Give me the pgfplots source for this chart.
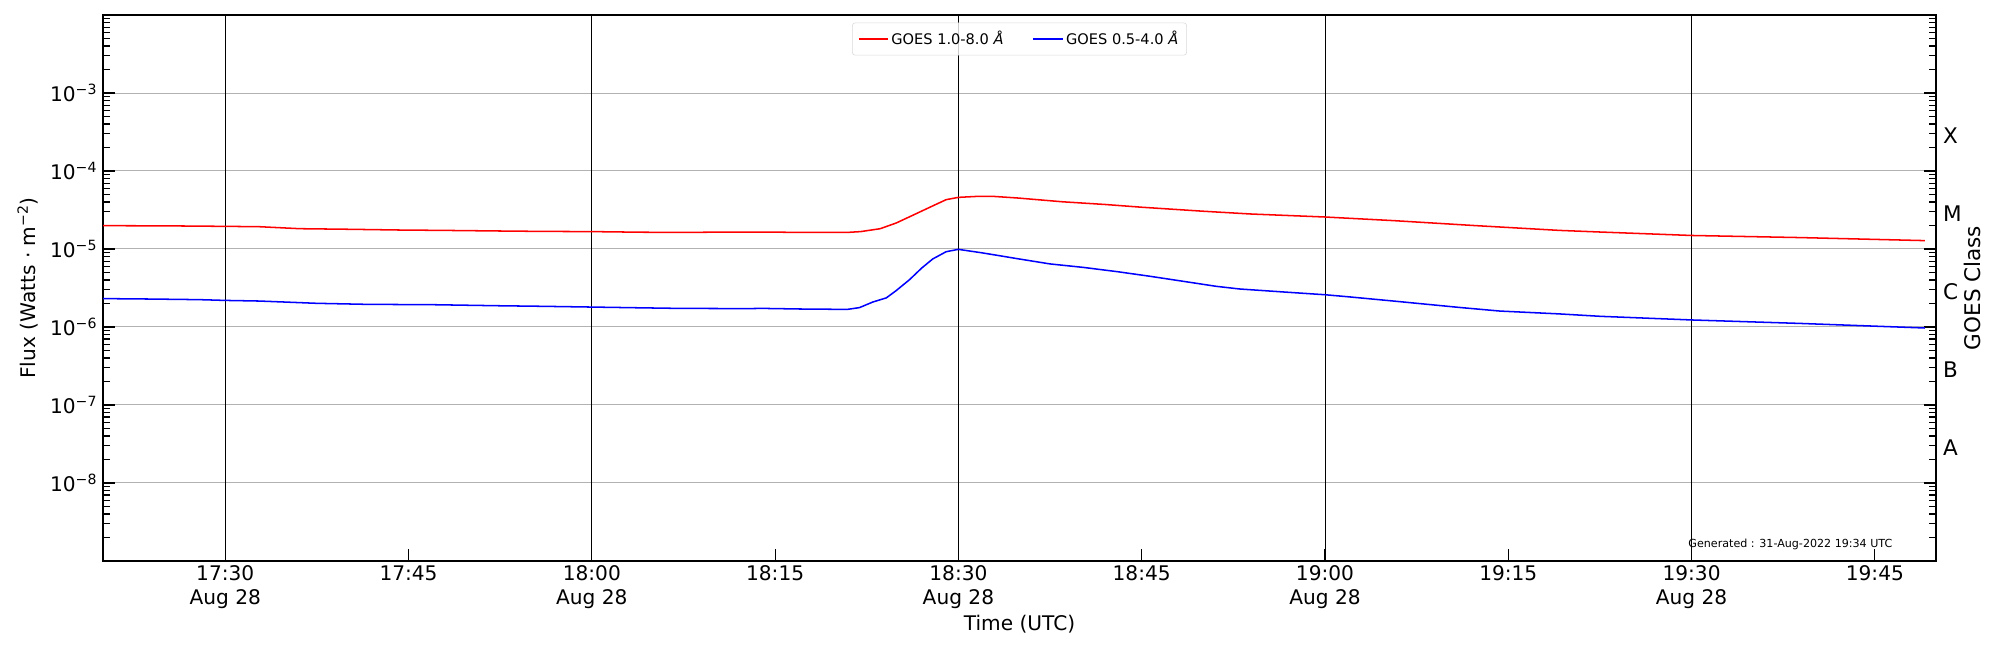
\documentclass[border=0pt]{standalone}
\usepackage{fontspec}
\setmainfont{DejaVu Sans}
\usepackage{pgfplots}
\pgfplotsset{compat=1.18}
\begin{document}
\begin{tikzpicture}
\path[use as bounding box] (-74.2pt,-64.1pt) rectangle (1365.9pt,403.9pt);
\begin{axis}[
  at={(0pt,0pt)}, anchor=south west,
  scale only axis, width=1319.8pt, height=393.1pt,
  xmin=20, xmax=170, ymode=log, ymin=1e-9, ymax=1e-2,
  font=\fontsize{14.5}{17.4}\selectfont,
  axis line style={line width=1pt},
  tick align=inside, major tick length=8.3pt, minor tick length=5.3pt,
  tick style={black, line width=0.8pt},
  xtick pos=left, ytick pos=both,
  xtick={30,45,60,75,90,105,120,135,150,165},
  xticklabels={{17:30\\Aug 28},17:45,{18:00\\Aug 28},18:15,{18:30\\Aug 28},18:45,{19:00\\Aug 28},19:15,{19:30\\Aug 28},19:45},
  xticklabel style={align=center, inner sep=2pt, yshift=-1pt},
  ytick={1e-9,1e-8,1e-7,1e-6,1e-5,1e-4,1e-3,1e-2},
  yticklabels={,10\textsuperscript{−8},10\textsuperscript{−7},10\textsuperscript{−6},10\textsuperscript{−5},10\textsuperscript{−4},10\textsuperscript{−3},},
  yticklabel style={inner sep=2pt, xshift=-2pt},
  ymajorgrids, major grid style={color=black!30, line width=0.7pt},
  extra x ticks={30,60,90,120,150},
  extra x tick labels={},
  extra x tick style={xmajorgrids=true, major grid style={black, line width=0.7pt}},
  xlabel={Time (UTC)},
  ylabel={Flux (Watts · m\textsuperscript{−2})},
  xlabel style={at={(axis description cs:0.5,-0.1155)}, anchor=center},
  ylabel style={at={(axis description cs:-0.0412,0.5)}, anchor=center},
  legend style={at={(0.5,1)}, anchor=north, yshift=-5.5pt, draw=black!15, rounded corners=2pt,
    font=\fontsize{10.5}{12.6}\selectfont, fill=white, fill opacity=0.8, text opacity=1,
    /tikz/column 2/.style={column sep=19pt}, inner sep=4pt},
  legend columns=2, legend cell align=left,
  legend image code/.code={\draw[#1] (0pt,0pt) -- (21pt,0pt);},
]
\addplot[red, line width=1.1pt] coordinates {
(20,1.99e-5)(25,1.98e-5)(30,1.95e-5)(32.8,1.93e-5)(36.1,1.82e-5)(40,1.79e-5)(44.3,1.75e-5)(48,1.73e-5)(52.5,1.70e-5)(56,1.68e-5)(60,1.67e-5)(64,1.64e-5)(67.2,1.63e-5)(72,1.65e-5)(74,1.65e-5)(77.1,1.63e-5)(80.9,1.63e-5)(82,1.67e-5)(83.6,1.82e-5)(84.9,2.15e-5)(86.3,2.72e-5)(87.7,3.45e-5)(89.0,4.29e-5)(90,4.59e-5)(91.5,4.72e-5)(92.9,4.72e-5)(94.8,4.51e-5)(98.5,4.03e-5)(102,3.72e-5)(105,3.43e-5)(110,3.05e-5)(113.9,2.81e-5)(120,2.57e-5)(125.6,2.31e-5)(132.4,1.99e-5)(139.2,1.73e-5)(142.5,1.65e-5)(150,1.49e-5)(158.9,1.40e-5)(169.1,1.28e-5)
};
\addlegendentry{GOES 1.0-8.0 \textit{Å}}
\addplot[blue, line width=1.1pt] coordinates {
(20,2.31e-6)(24,2.28e-6)(27.9,2.24e-6)(30,2.19e-6)(32.8,2.15e-6)(37.5,2.01e-6)(41.6,1.95e-6)(47,1.93e-6)(52.5,1.87e-6)(56,1.84e-6)(60,1.80e-6)(64,1.76e-6)(67.2,1.73e-6)(72.7,1.72e-6)(74,1.73e-6)(77,1.70e-6)(80.9,1.68e-6)(81.9,1.77e-6)(83.0,2.09e-6)(84.1,2.36e-6)(84.9,2.92e-6)(86.0,4.04e-6)(87.0,5.70e-6)(87.9,7.45e-6)(89.0,9.23e-6)(90,9.89e-6)(92,8.89e-6)(94.8,7.52e-6)(97.5,6.43e-6)(100.2,5.81e-6)(103,5.12e-6)(105.7,4.46e-6)(108.4,3.85e-6)(111.1,3.32e-6)(113,3.07e-6)(116.6,2.81e-6)(120,2.59e-6)(122,2.43e-6)(125.6,2.15e-6)(131,1.78e-6)(134.3,1.60e-6)(139.2,1.47e-6)(142.5,1.37e-6)(150,1.23e-6)(158.9,1.11e-6)(169.1,9.70e-7)
};
\addlegendentry{GOES 0.5-4.0 \textit{Å}}
\node[font=\fontsize{8}{9.6}\selectfont, anchor=center] at (axis description cs:0.9206,0.0306) {Generated : 31-Aug-2022 19:34 UTC};
\end{axis}
\begin{axis}[
  at={(0pt,0pt)}, anchor=south west,
  scale only axis, width=1319.8pt, height=393.1pt,
  xmin=20, xmax=170, ymode=log, ymin=1e-9, ymax=1e-2,
  font=\fontsize{15.5}{18.6}\selectfont,
  axis x line=none, axis y line*=right,
  y axis line style={draw=none},
  tick style={draw=none},
  ytick={3.1623e-8,3.1623e-7,3.1623e-6,3.1623e-5,3.1623e-4},
  yticklabels={A,B,C,M,X},
  yticklabel style={anchor=west, inner sep=0pt, xshift=5pt, yshift=-2.5pt},
  ylabel={GOES Class},
  ylabel style={at={(axis description cs:1.0197,0.5)}, anchor=center},
]
\end{axis}
\end{tikzpicture}
\end{document}
